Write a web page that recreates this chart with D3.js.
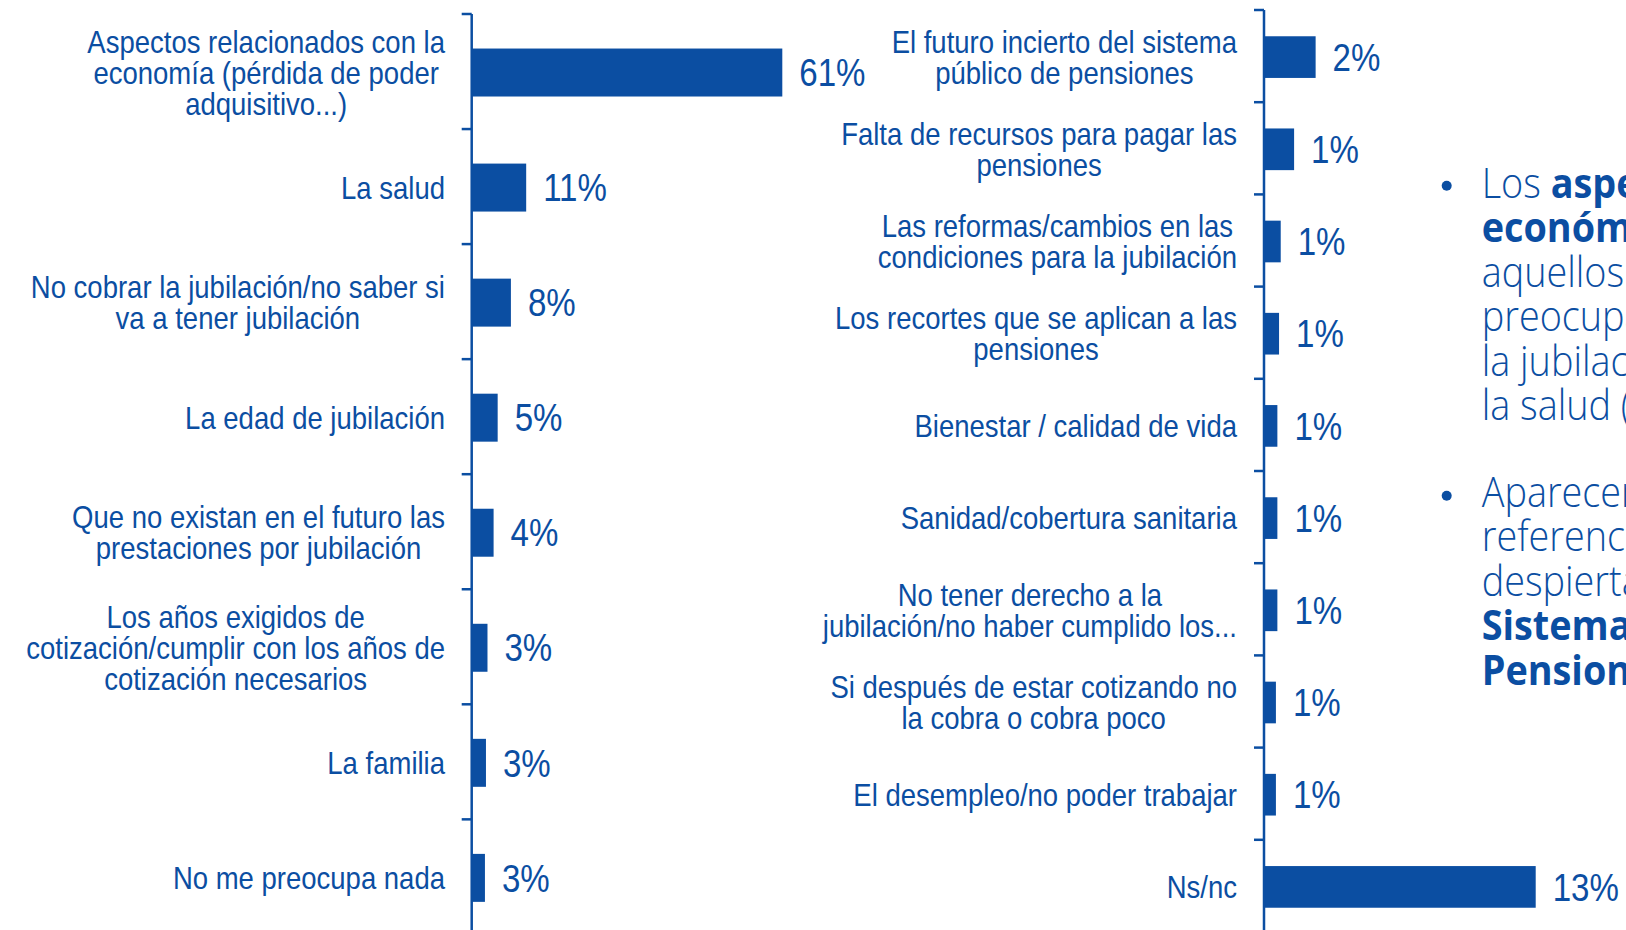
<!DOCTYPE html>
<html><head><meta charset="utf-8">
<script src="https://cdn.jsdelivr.net/npm/d3@7"></script>
<style>html,body{margin:0;padding:0;background:#fff;overflow:hidden}</style>
</head><body>
<svg id="chart" width="1626" height="930"></svg>
<script>
// ---- data ----
const leftCategories = [
  "Aspectos relacionados con la\neconomía (pérdida de poder\nadquisitivo...)",
  "La salud",
  "No cobrar la jubilación/no saber si\nva a tener jubilación",
  "La edad de jubilación",
  "Que no existan en el futuro las\nprestaciones por jubilación",
  "Los años exigidos de\ncotización/cumplir con los años de\ncotización necesarios",
  "La familia",
  "No me preocupa nada"
];
const leftValues = [61, 10.7, 7.7, 5.1, 4.3, 3.1, 2.8, 2.6];

const rightCategories = [
  "El futuro incierto del sistema\npúblico de pensiones",
  "Falta de recursos para pagar las\npensiones",
  "Las reformas/cambios en las\ncondiciones para la jubilación",
  "Los recortes que se aplican a las\npensiones",
  "Bienestar / calidad de vida",
  "Sanidad/cobertura sanitaria",
  "No tener derecho a la\njubilación/no haber cumplido los...",
  "Si después de estar cotizando no\nla cobra o cobra poco",
  "El desempleo/no poder trabajar",
  "Ns/nc"
];
const rightValues = [2.47, 1.44, 0.80, 0.72, 0.64, 0.64, 0.64, 0.57, 0.57, 13.0];

// bullet text: lines of [text, bold]
const bullet1 = [
  [["Los ", false], ["aspectos", true]],
  [["económicos", true], [" son", false]],
  [["aquellos que más", false]],
  [["preocupan de cara a", false]],
  [["la jubilación, seguidos de", false]],
  [["la salud  (11%)", false]]
];
const bullet2 = [
  [["Aparecen", false]],
  [["referencias a la", false]],
  [["despierta el futuro del", false]],
  [["Sistema Público de", true]],
  [["Pensiones", true]]
];

// ---- styles ----
const BLUE = "#0b4ea2";
const LABEL_FONT = "'Liberation Sans', Arial, sans-serif";
const fmt = v => Math.round(v) + "%";

const svg = d3.select("#chart");

function drawPanel(cfg) {
  const g = svg.append("g");
  const y = d3.scaleBand().domain(cfg.cats).range(cfg.yRange).paddingInner(0).paddingOuter(0);
  const x = d3.scaleLinear().domain(cfg.xDomain).range(cfg.xRange);
  const bw = y.bandwidth();
  const bh = bw * cfg.barRatio;

  // bars
  g.selectAll("rect.bar").data(cfg.cats).enter().append("rect")
    .attr("class", "bar")
    .attr("x", x(0))
    .attr("y", (d) => y(d) + (bw - bh) / 2 + 1)
    .attr("width", (d, i) => x(cfg.vals[i]) - x(0))
    .attr("height", bh)
    .attr("fill", BLUE);

  // axis line + ticks (category boundaries)
  const ax = x(0);
  g.append("line").attr("x1", ax).attr("x2", ax)
    .attr("y1", cfg.yRange[0]).attr("y2", cfg.yRange[1] + 10)
    .attr("stroke", BLUE).attr("stroke-width", 2.5);
  const tickYs = cfg.cats.map(c => y(c)).concat([cfg.yRange[1]]);
  g.selectAll("line.tick").data(tickYs).enter().append("line")
    .attr("class", "tick")
    .attr("x1", ax - 10).attr("x2", ax)
    .attr("y1", d => d).attr("y2", d => d)
    .attr("stroke", BLUE).attr("stroke-width", 2.5);

  // value labels
  g.selectAll("g.val").data(cfg.cats).enter().append("g")
    .attr("class", "val")
    .attr("transform", (d, i) => `translate(${x(cfg.vals[i]) + 17},${y(d) + bw / 2 + 1}) scale(0.87,1)`)
    .append("text")
    .attr("dy", "0.36em")
    .attr("font-family", LABEL_FONT)
    .attr("font-size", 38)
    .attr("fill", BLUE)
    .text((d, i) => fmt(cfg.vals[i]));

  // category labels: one text per label, lines centred on each other, block right-aligned
  const sx = 0.887, fs = 31, lh = 31;
  cfg.cats.forEach((c) => {
    const lines = c.split("\n");
    const cy = y(c) + bw / 2 + 1;
    const widths = lines.map(l => {
      const t = svg.append("text").attr("font-family", LABEL_FONT).attr("font-size", fs).text(l);
      const w = t.node().getComputedTextLength();
      t.remove();
      return w * sx;
    });
    const W = d3.max(widths);
    const cx = cfg.labelRight - W / 2;
    const t = g.append("g")
      .attr("transform", `translate(${cx},${cy}) scale(${sx},1)`)
      .append("text")
      .attr("text-anchor", "middle")
      .attr("font-family", LABEL_FONT)
      .attr("font-size", fs)
      .attr("fill", BLUE);
    lines.forEach((l, k) => {
      t.append("tspan")
        .attr("x", 0)
        .attr("y", (k - (lines.length - 1) / 2) * lh)
        .attr("dy", "0.36em")
        .text(l);
    });
  });
}

drawPanel({
  cats: leftCategories, vals: leftValues,
  yRange: [14, 934.4], xDomain: [0, 61], xRange: [471.7, 782.3],
  barRatio: 0.417, labelRight: 445
});
drawPanel({
  cats: rightCategories, vals: rightValues,
  yRange: [10, 932], xDomain: [0, 13], xRange: [1264, 1535.7],
  barRatio: 0.452, labelRight: 1237
});

// ---- bullet text ----
function drawBullet(lines, dotY, firstBaseline) {
  svg.append("circle").attr("cx", 1446.7).attr("cy", dotY).attr("r", 5).attr("fill", BLUE);
  const t = svg.append("g")
    .attr("transform", `translate(1481.7,${firstBaseline}) scale(0.9,1)`)
    .append("text")
    .attr("font-family", "'Open Sans', 'Noto Sans', sans-serif")
    .attr("font-size", 42)
    .attr("fill", BLUE);
  lines.forEach((segs, k) => {
    segs.forEach(([txt, bold], j) => {
      const sp = t.append("tspan").attr("font-weight", bold ? 700 : 300).text(txt);
      if (j === 0) sp.attr("x", 0).attr("y", k * 44.4);
    });
  });
}
drawBullet(bullet1, 185.7, 198);
drawBullet(bullet2, 495.7, 507);
</script>
</body></html>
